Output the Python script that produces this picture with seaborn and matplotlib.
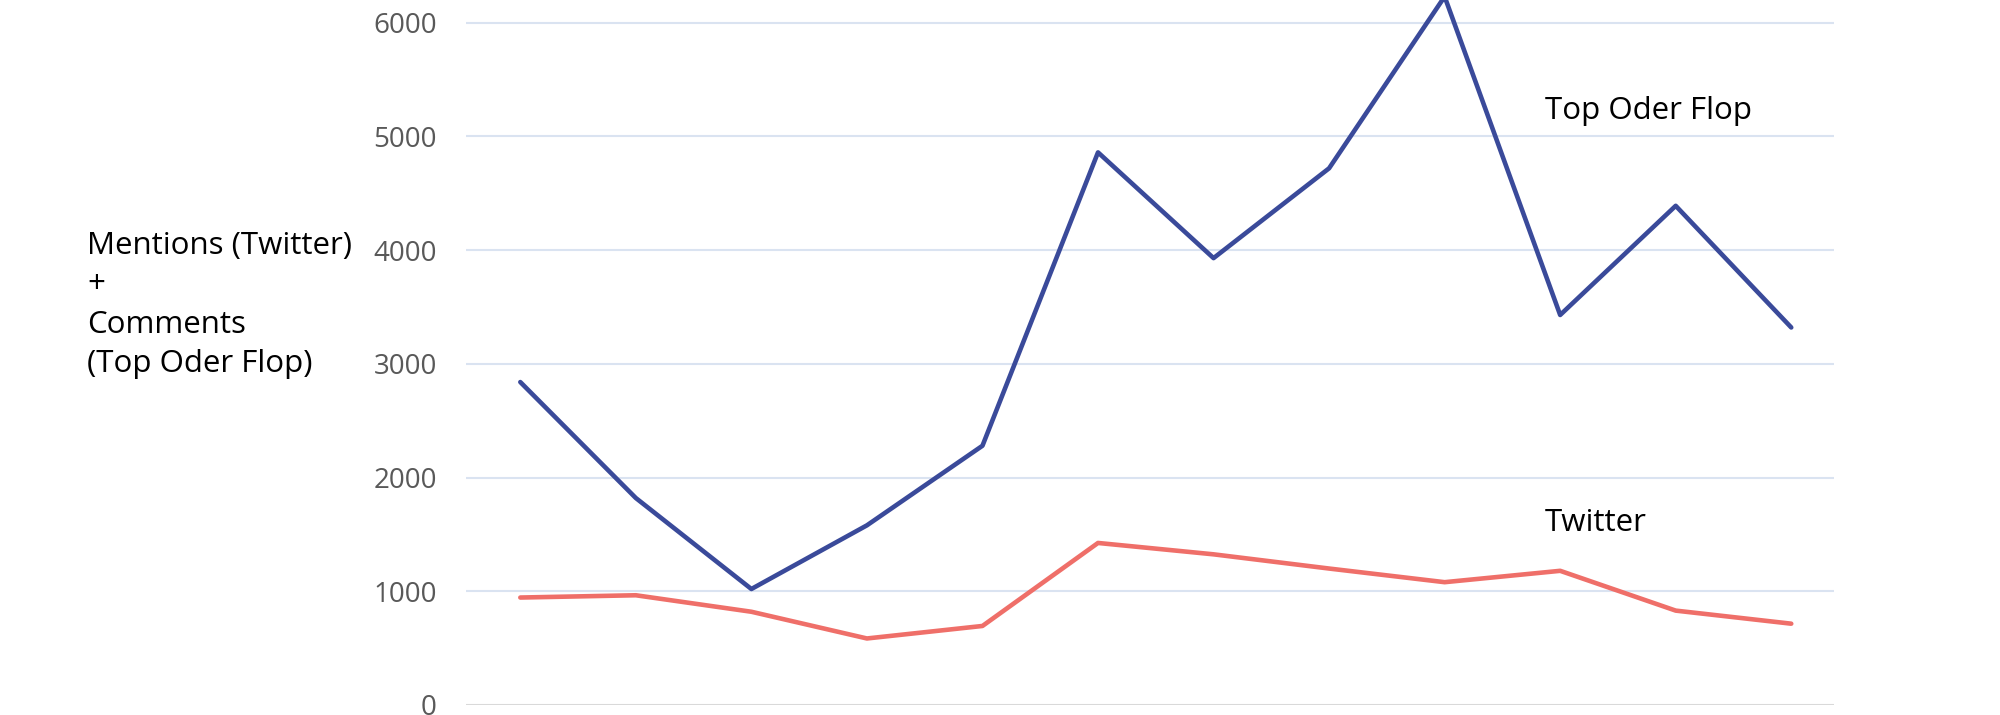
import numpy as np
import pandas as pd
import matplotlib
matplotlib.use('Agg')
import matplotlib.pyplot as plt
import seaborn as sns

# values
periods = list(range(12))
top_oder_flop = [2840, 1820, 1020, 1580, 2280, 4860, 3930, 4720, 6230, 3430, 4390, 3320]
twitter = [945, 965, 820, 585, 695, 1425, 1325, 1200, 1080, 1180, 830, 715]
y_ticks = [0, 1000, 2000, 3000, 4000, 5000, 6000]

df = pd.DataFrame({
    'period': periods * 2,
    'count': top_oder_flop + twitter,
    'source': ['Top Oder Flop'] * 12 + ['Twitter'] * 12,
})

sns.set_style('white')
plt.rcParams['font.family'] = ['Open Sans', 'DejaVu Sans']
plt.rcParams['text.color'] = 'black'

fig = plt.figure(figsize=(20, 7.15), dpi=100)
ax = fig.add_axes([0.233, 0.014, 0.684, 0.986])

sns.lineplot(data=df, x='period', y='count', hue='source',
             palette={'Top Oder Flop': '#3A4A9A', 'Twitter': '#EF6F69'},
             linewidth=3.3, legend=False, ax=ax)

ax.set_xlim(-0.47, 11.37)
ax.set_ylim(0, 6200)
ax.set_yticks(y_ticks)
ax.set_yticklabels([str(t) for t in y_ticks], color='#595959', fontsize=20)
ax.set_xticks([])
ax.set_xlabel('')
ax.set_ylabel('')
ax.tick_params(axis='y', length=0, pad=21)
for s in ax.spines.values():
    s.set_visible(False)
for t in y_ticks[1:]:
    ax.axhline(t, color='#DAE3F1', linewidth=1.5, zorder=0)
ax.axhline(0, color='#D9D9D9', linewidth=1.5, zorder=0)

ax.text(8.87, 5225, 'Top Oder Flop', fontsize=22.5, va='center', ha='left')
ax.text(8.87, 1600, 'Twitter', fontsize=22.5, va='center', ha='left')

fig.text(0.0435, 1 - 231 / 715, 'Mentions (Twitter)\n+\nComments\n(Top Oder Flop)',
         fontsize=22.5, va='top', ha='left', linespacing=1.41)

fig.savefig('out.png', dpi=100)
